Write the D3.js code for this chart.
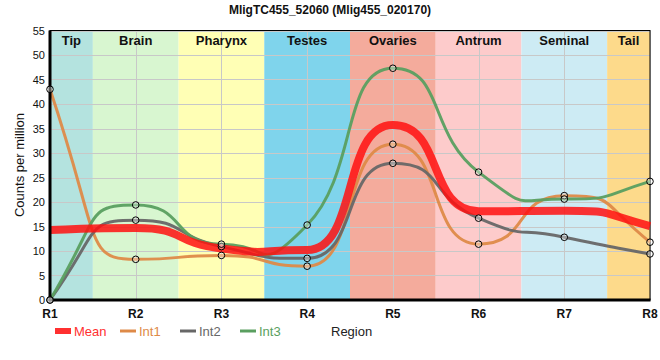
<!DOCTYPE html>
<html><head><meta charset="utf-8">
<script src="https://cdn.jsdelivr.net/npm/d3@7/dist/d3.min.js"></script>
<style>body{margin:0;background:#fff;font-family:"Liberation Sans",Arial,sans-serif;}</style>
</head><body><svg id="c" width="660" height="360"></svg>
<script>
const regions = ["R1","R2","R3","R4","R5","R6","R7","R8"];
const tissues = ["Tip","Brain","Pharynx","Testes","Ovaries","Antrum","Seminal","Tail"];
const tissueColors = ["#b4e3df","#d8f6d0","#ffffb5","#7fd4ec","#f4ab9c","#fdcbcb","#cdebf4","#fdda8b"];
const mean = [14.3, 14.7, 10.5, 10.2, 35.7, 18.1, 18.2, 15.1];
const int1 = [43.0, 8.3, 9.1, 6.9, 31.8, 11.4, 21.3, 11.8];
const int2 = [0.0, 16.3, 10.9, 8.5, 27.9, 16.7, 12.8, 9.4];
const int3 = [0.0, 19.4, 11.4, 15.3, 47.3, 26.1, 20.6, 24.2];
const yTicks = [0,5,10,15,20,25,30,35,40,45,50,55];

// custom smooth curve for d3.line: horizontal-stretched Bezier, flat at extrema
function curveSmooth(context){
  const A = 0.6;
  let pts = [];
  return {
    areaStart(){}, areaEnd(){},
    lineStart(){ pts = []; },
    point(x,y){ pts.push([+x,+y]); },
    lineEnd(){
      const n = pts.length; if (!n) return;
      const m = new Array(n).fill(0);
      for (let i=1;i<n-1;i++){
        const d0 = pts[i][1]-pts[i-1][1], d1 = pts[i+1][1]-pts[i][1];
        m[i] = (d0*d1 <= 0) ? 0 : (pts[i+1][1]-pts[i-1][1])/2;
      }
      if (n>1){
        const s0 = pts[1][1]-pts[0][1];
        let e0 = (3*s0 - m[1])/2; if (e0*s0<=0) e0=0; if (Math.abs(e0)>3*Math.abs(s0)) e0=3*s0;
        m[0]=e0;
        const s1 = pts[n-1][1]-pts[n-2][1];
        let e1 = (3*s1 - m[n-2])/2; if (e1*s1<=0) e1=0; if (Math.abs(e1)>3*Math.abs(s1)) e1=3*s1;
        m[n-1]=e1;
      }
      context.moveTo(pts[0][0],pts[0][1]);
      for (let i=0;i<n-1;i++){
        const [x0,y0]=pts[i],[x1,y1]=pts[i+1], h=x1-x0;
        context.bezierCurveTo(x0+A*h, y0+A*m[i], x1-A*h, y1-A*m[i+1], x1, y1);
      }
    }
  };
}

const svg = d3.select("#c");
const L=50,R=650,T=30.5,B=300;
const x = d3.scalePoint().domain(regions).range([L,R]);
const y = d3.scaleLinear().domain([0,55]).range([B,T]);
const step = x.step();
const bandL = i => Math.max(L, x(regions[i])-step/2);
const bandR = i => Math.min(R, x(regions[i])+step/2);

// bands
svg.append("g").selectAll("rect").data(tissues).join("rect")
  .attr("x",(d,i)=>bandL(i)).attr("width",(d,i)=>bandR(i)-bandL(i))
  .attr("y",T).attr("height",B-T)
  .attr("fill",(d,i)=>tissueColors[i]);

// grid
const g = svg.append("g").attr("stroke","#c8c8c8").attr("stroke-width",1);
g.selectAll("line.h").data(yTicks).join("line").attr("class","h")
  .attr("x1",L).attr("x2",R).attr("y1",d=>Math.round(y(d))+0.5).attr("y2",d=>Math.round(y(d))+0.5);
g.selectAll("line.v").data(regions).join("line").attr("class","v")
  .attr("y1",T).attr("y2",B).attr("x1",d=>Math.round(x(d))+0.5).attr("x2",d=>Math.round(x(d))+0.5);

// tissue labels
svg.append("g").selectAll("text").data(tissues).join("text")
  .attr("x",(d,i)=>(bandL(i)+bandR(i))/2)
  .attr("y",45).attr("text-anchor","middle").attr("font-size",13).attr("font-weight","bold").attr("fill","#111")
  .text(d=>d);

// border
svg.append("rect").attr("x",L).attr("y",T).attr("width",R-L).attr("height",B-T)
  .attr("fill","none").attr("stroke","#000").attr("stroke-width",1);

const line = d3.line().x((d,i)=>x(regions[i])).y(d=>y(d)).curve(curveSmooth);
const series = [
  {name:"Int1", data:int1, color:"#de8a48", w:3},
  {name:"Int2", data:int2, color:"#676767", w:3},
  {name:"Int3", data:int3, color:"#5a9f60", w:3},
];
series.forEach(s=>{
  svg.append("path").attr("d",line(s.data)).attr("fill","none")
    .attr("stroke",s.color).attr("stroke-width",s.w).attr("stroke-opacity",0.95);
});
svg.append("path").attr("d",line(mean)).attr("fill","none")
  .attr("stroke","#ff1010").attr("stroke-width",8).attr("stroke-opacity",0.85);

// axes
svg.append("line").attr("x1",L).attr("x2",L).attr("y1",T).attr("y2",B+1.5).attr("stroke","#000").attr("stroke-width",3);
svg.append("line").attr("x1",L-1.5).attr("x2",R+0.5).attr("y1",B).attr("y2",B).attr("stroke","#000").attr("stroke-width",3);

// points
series.forEach(s=>{
  svg.append("g").selectAll("circle").data(s.data).join("circle")
    .attr("cx",(d,i)=>x(regions[i])).attr("cy",d=>y(d)).attr("r",3.3)
    .attr("fill","#fff").attr("fill-opacity",0.35).attr("stroke","#000").attr("stroke-width",1);
});

// y tick labels
svg.append("g").selectAll("text").data(yTicks).join("text")
  .attr("x",45).attr("y",d=>y(d)+4).attr("text-anchor","end").attr("font-size",11).attr("fill","#111")
  .text(d=>d);
// x tick labels
svg.append("g").selectAll("text").data(regions).join("text")
  .attr("x",d=>x(d)).attr("y",318).attr("text-anchor","middle").attr("font-size",12).attr("font-weight","bold").attr("fill","#111")
  .text(d=>d);

// titles
svg.append("text").attr("x",330).attr("y",14).attr("text-anchor","middle").attr("font-size",12).attr("font-weight","bold").attr("fill","#111")
  .text("MligTC455_52060 (Mlig455_020170)");
svg.append("text").attr("transform","translate(24,165) rotate(-90)").attr("text-anchor","middle").attr("font-size",13).attr("fill","#111")
  .text("Counts per million");
svg.append("text").attr("x",331).attr("y",336).attr("font-size",13).attr("fill","#222").text("Region");

// legend
const leg = [
  {name:"Mean", color:"#ff3030", w:6, x:55},
  {name:"Int1", color:"#de8a48", w:3, x:120},
  {name:"Int2", color:"#676767", w:3, x:180},
  {name:"Int3", color:"#5a9f60", w:3, x:240},
];
const lg = svg.append("g");
leg.forEach(l=>{
  lg.append("line").attr("x1",l.x).attr("x2",l.x+16).attr("y1",331).attr("y2",331).attr("stroke",l.color).attr("stroke-width",l.w);
  lg.append("text").attr("x",l.x+19).attr("y",336).attr("font-size",13).attr("fill",l.color).text(l.name);
});
</script></body></html>
